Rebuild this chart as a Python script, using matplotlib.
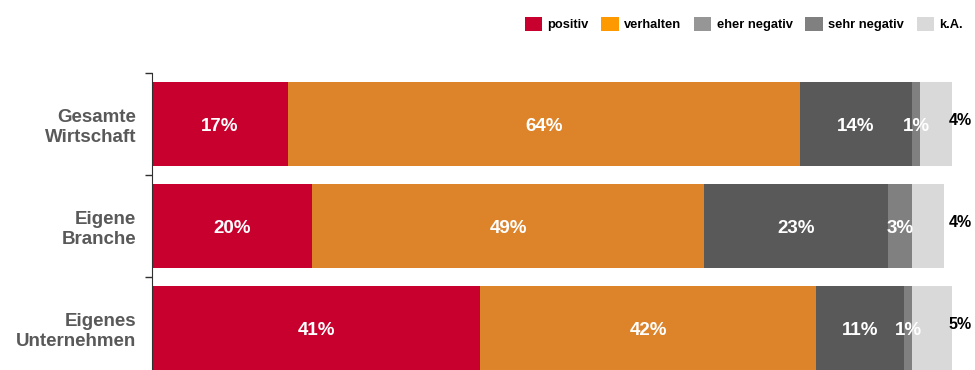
import matplotlib.pyplot as plt
from matplotlib.patches import Patch
import numpy as np

plt.rcParams['font.family'] = ['Liberation Sans', 'DejaVu Sans']
plt.rcParams['font.weight'] = 'bold'

# Einschaetzung der wirtschaftlichen Lage (Anteile in %)
categories = ["Gesamte\nWirtschaft", "Eigene\nBranche", "Eigenes\nUnternehmen"]
positiv = [17, 20, 41]
verhalten = [64, 49, 42]
eher_negativ = [14, 23, 11]
sehr_negativ = [1, 3, 1]
ka = [4, 4, 5]

series = [positiv, verhalten, eher_negativ, sehr_negativ, ka]
bar_colors = ['#C8002D', '#DD842B', '#595959', '#808080', '#D9D9D9']
legend_names = ['positiv', 'verhalten', 'eher negativ', 'sehr negativ', 'k.A.']
legend_colors = ['#C8002D', '#FF9900', '#969696', '#808080', '#D9D9D9']

fig = plt.figure(figsize=(9.75, 3.7), dpi=100)
ax = fig.add_axes([152 / 975, -9 / 370, 800 / 975, 306 / 370])

y = np.arange(len(categories))
left = np.zeros(len(categories))
for i, (vals, col) in enumerate(zip(series, bar_colors)):
    ax.barh(y, vals, left=left, height=0.83, color=col, edgecolor='none')
    for yi, l, v in zip(y, left, vals):
        if i < 4:
            ax.text(l + v / 2, yi + 0.02, f"{v}%", ha='center', va='center',
                    color='white', fontsize=13.5, fontweight='bold')
        else:
            # k.A. steht rechts neben dem Balken
            ax.text(99.6, yi - 0.03, f"{v}%", ha='left', va='center',
                    color='black', fontsize=11.5, fontweight='bold')
    left = left + np.array(vals)

ax.set_xlim(0, 100)
ax.set_ylim(2.5, -0.5)
ax.set_xticks([])
ax.set_yticks([-0.5, 0.5, 1.5, 2.5])
ax.set_yticklabels([])
ax.set_yticks(y, minor=True)
ax.set_yticklabels(categories, minor=True, color='#595959', fontsize=13.5,
                   fontweight='bold', ha='right', multialignment='right')
ax.tick_params(axis='y', which='major', length=5, width=1, color='#303030')
ax.tick_params(axis='y', which='minor', length=0, pad=11.5)
for s in ['top', 'right', 'bottom']:
    ax.spines[s].set_visible(False)
ax.spines['left'].set_color('#303030')
ax.set_zorder(2)

handles = [Patch(facecolor=c, edgecolor='none') for c in legend_colors]
fig.legend(handles, legend_names, loc='center right', bbox_to_anchor=(968 / 975, 1 - 24 / 370),
           ncol=5, frameon=False, fontsize=9.3, handlelength=1.35, handleheight=1.35,
           handletextpad=0.4, columnspacing=1.0, borderaxespad=0)

fig.savefig('out.png', dpi=100)
